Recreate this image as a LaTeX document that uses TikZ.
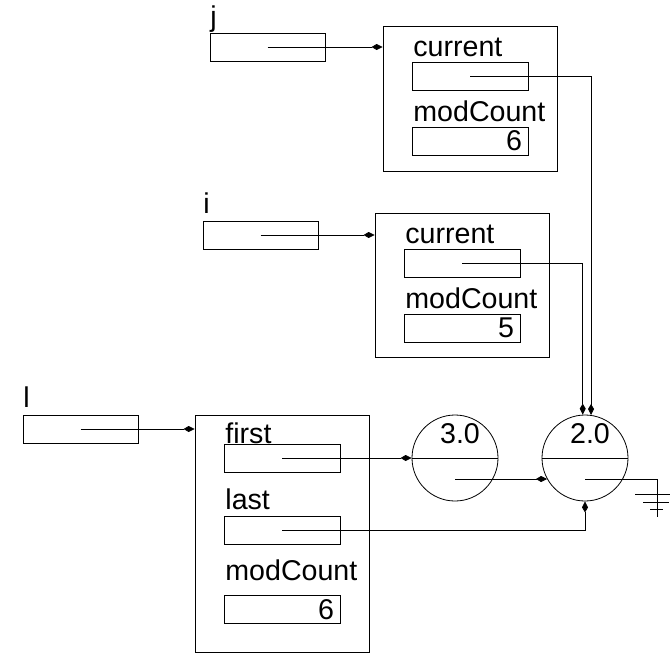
\documentclass[tikz,border=0pt]{standalone}
\usepackage{fontspec}
\setmainfont{Liberation Sans}
\usetikzlibrary{arrows.meta}

\tikzset{
  refbox/.style={draw, minimum width=115pt, minimum height=28pt, inner sep=0pt},
  objbox/.style={draw, minimum width=174pt, inner sep=0pt},
  field/.style={draw, minimum width=116pt, minimum height=28pt, inner sep=0pt},
  cell/.style={draw, circle, minimum size=86pt, inner sep=0pt},
  lbl/.style={anchor=base west, inner sep=0pt},
  val/.style={anchor=east, inner sep=0pt},
  ptr/.style={-{Kite[length=11pt,width=6pt,inset=5pt]}},
}

\begin{document}
\begin{tikzpicture}[x=1pt, y=-1pt, line width=0.8pt, font=\fontsize{28.6}{34}\selectfont]

\useasboundingbox (0,0) rectangle (671,654);

% --- ITERATOR j ---
\node[lbl] (jname) at (210,26) {j};
\node[refbox] (jref) at (267.5,47) {};
\node[objbox, minimum height=145pt] (jobj) at (470,98.5) {};
\node[lbl] (jcurtxt) at (413,56) {current};
\node[field] (jcur) at (470,76.5) {};
\node[lbl] (jmodtxt) at (413,121) {modCount};
\node[field] (jmod) at (470,141) {};
\node[val] (jmodval) at ([xshift=-6pt]jmod.east) {6};

% --- ITERATOR i ---
\node[lbl] (iname) at (203,213) {i};
\node[refbox] (iref) at (260.5,235) {};
\node[objbox, minimum height=144pt] (iobj) at (462,285) {};
\node[lbl] (icurtxt) at (405,243) {current};
\node[field] (icur) at (462,263.5) {};
\node[lbl] (imodtxt) at (405,308) {modCount};
\node[field] (imod) at (462,328) {};
\node[val] (imodval) at ([xshift=-6pt]imod.east) {5};

% --- LIST l ---
\node[lbl] (lname) at (23,407) {l};
\node[refbox] (lref) at (80.5,429) {};
\node[objbox, minimum height=237pt] (lobj) at (282,533.5) {};
\node[lbl] (firsttxt) at (225,443) {first};
\node[field] (firstf) at (282,458) {};
\node[lbl] (lasttxt) at (225,509) {last};
\node[field] (lastf) at (282,530.5) {};
\node[lbl] (lmodtxt) at (225,580) {modCount};
\node[field] (lmod) at (282,609.5) {};
\node[val] (lmodval) at ([xshift=-6pt]lmod.east) {6};

% --- CELLS ---
\node[cell] (c3) at (455,458) {};
\node (c3val) at (460,434) {3.0};
\draw (c3.west) -- (c3.east);
\node[cell] (c2) at (585,458) {};
\node (c2val) at (590,434) {2.0};
\draw (c2.west) -- (c2.east);
\coordinate (c3nxt) at (455,479);
\coordinate (c2nxt) at (585,479);

% --- POINTERS ---
\draw[ptr] (jref.center) -- (jref.center -| jobj.west);
\draw[ptr] (iref.center) -- (iref.center -| iobj.west);
\draw[ptr] (lref.center) -- (lref.center -| lobj.west);
\draw[ptr] (jcur.center) -| (c2.82);
\draw[ptr] (icur.center) -| (c2.93);
\draw[ptr] (firstf.center) -- (c3.west);
\draw[ptr] (lastf.center) -| (c2.south);
\draw[ptr] (c3nxt) -- (c3nxt -| c2.209);

% --- NULL ---
\coordinate (gnd) at (657,517);
\draw (c2nxt) -| (gnd);
\draw (635,494) -- (670,494);
\draw (643,502) -- (669,502);
\draw (650,509) -- (663,509);

\end{tikzpicture}
\end{document}
